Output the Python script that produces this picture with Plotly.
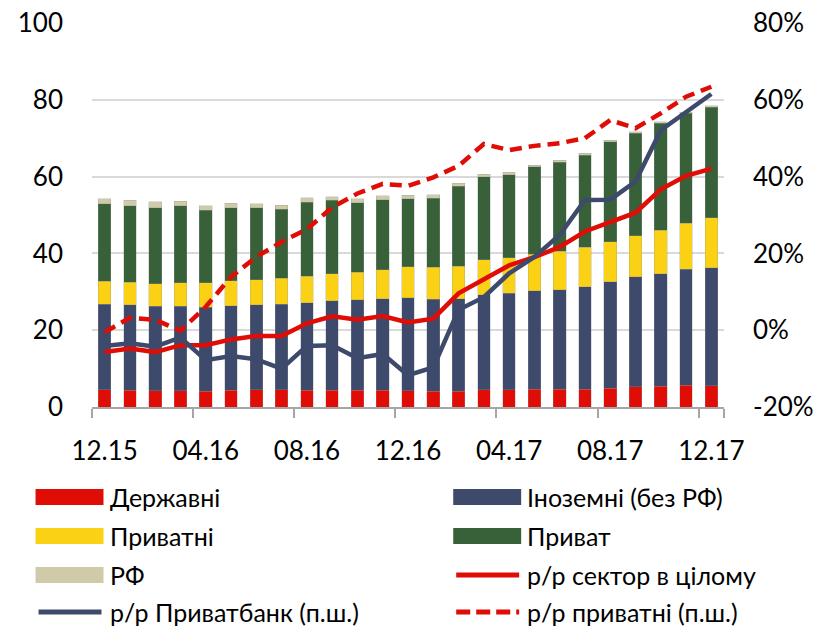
import plotly.graph_objects as go

months = ["12.15", "01.16", "02.16", "03.16", "04.16", "05.16", "06.16", "07.16",
          "08.16", "09.16", "10.16", "11.16", "12.16", "01.17", "02.17", "03.17",
          "04.17", "05.17", "06.17", "07.17", "08.17", "09.17", "10.17", "11.17", "12.17"]
tick_labels = months[::4]
left_ticks = [0, 20, 40, 60, 80, 100]
right_ticks = [-20, 0, 20, 40, 60, 80]
right_tick_text = ["-20%", "0%", "20%", "40%", "60%", "80%"]

state = [4.5, 4.3, 4.2, 4.2, 4.1, 4.3, 4.5, 4.5, 4.4, 4.4, 4.3, 4.3, 4.2, 4.1, 4.1,
         4.5, 4.5, 4.6, 4.6, 4.6, 4.9, 5.3, 5.4, 5.7, 5.6]
foreign = [22.3, 22.3, 22.0, 22.0, 21.9, 22.1, 22.1, 22.3, 22.8, 23.3, 23.6, 23.9, 24.3,
           23.9, 24.1, 24.7, 25.1, 25.7, 26.0, 26.7, 27.7, 28.6, 29.3, 30.2, 30.6]
private = [5.9, 5.9, 5.9, 6.1, 6.4, 6.5, 6.6, 6.7, 6.8, 7.0, 7.2, 7.6, 8.0, 8.4, 8.5,
           9.1, 9.3, 9.5, 9.9, 10.3, 10.5, 10.7, 11.3, 12.0, 13.1]
privat = [20.2, 19.9, 19.8, 20.1, 18.8, 19.0, 18.7, 18.0, 19.3, 19.1, 18.1, 18.2, 17.7,
          18.0, 20.8, 21.7, 21.6, 22.8, 23.3, 24.0, 26.0, 26.7, 27.9, 28.6, 28.7]
russian = [1.3, 1.4, 1.5, 1.2, 1.2, 1.2, 1.0, 1.1, 1.2, 1.0, 1.0, 1.0, 1.0, 0.9, 0.8,
           0.6, 0.6, 0.4, 0.5, 0.5, 0.4, 0.4, 0.4, 0.3, 0.5]

yoy_sector = [-5.7, -4.8, -5.7, -3.9, -3.9, -2.4, -1.5, -1.5, 1.8, 3.6, 2.7, 3.7, 2.0,
              3.0, 9.6, 13.2, 16.9, 19.0, 21.7, 25.7, 28.0, 30.6, 36.7, 40.2, 42.1]
yoy_privatbank = [-4.1, -3.4, -4.3, -1.9, -7.8, -6.7, -7.6, -10.0, -4.1, -3.9, -7.3, -6.2,
                  -11.7, -9.7, 5.3, 8.6, 14.8, 19.1, 24.8, 33.9, 34.0, 38.7, 52.1, 56.9, 61.5]
yoy_private = [-0.5, 3.2, 2.7, -0.1, 6.1, 13.9, 19.1, 23.0, 26.3, 32.0, 35.6, 38.1, 37.6,
               39.8, 42.8, 48.5, 46.9, 48.0, 48.7, 50.0, 54.7, 52.6, 56.5, 60.8, 63.4]

bar_names = ["Державні", "Іноземні (без РФ)", "Приватні", "Приват", "РФ"]
line_names = ["р/р сектор в цілому", "р/р Приватбанк (п.ш.)", "р/р приватні (п.ш.)"]

RED = "#E00D06"
NAVY = "#3D4A6B"
YELLOW = "#FBD115"
GREEN = "#38613A"
BEIGE = "#CFCAA8"
FONT = "Lato"
TICK_SIZE = 26
LEG_SIZE = 25

fig = go.Figure()
bar_series = [state, foreign, private, privat, russian]
bar_colors = [RED, NAVY, YELLOW, GREEN, BEIGE]
for name, vals, col in zip(bar_names, bar_series, bar_colors):
    fig.add_trace(go.Bar(x=months, y=vals, name=name,
                         marker=dict(color=col, line=dict(width=0.6, color="rgba(150,150,150,0.5)")),
                         showlegend=False))

line_series = [yoy_sector, yoy_privatbank, yoy_private]
line_styles = [dict(color=RED, width=4.5), dict(color=NAVY, width=4.5),
               dict(color=RED, width=4.5, dash="12px,7px")]
for name, vals, st in zip(line_names, line_series, line_styles):
    fig.add_trace(go.Scatter(x=months, y=vals, name=name, mode="lines", line=st,
                             yaxis="y2", showlegend=False))

# page offset (default body margin) compensation
OFF = 8
# plot area geometry in screenshot px
L, R, T, B = 91.5, 724, 23, 407
W, H = 822 - OFF, 626 - OFF
fig.update_layout(
    width=W, height=H,
    margin=dict(l=L - OFF, r=W - (R - OFF), t=T - OFF, b=H - (B - OFF), autoexpand=False),
    paper_bgcolor="white", plot_bgcolor="white",
    barmode="stack", bargap=0.5,
    font=dict(family=FONT, color="black"),
    xaxis=dict(type="category", tickmode="array", tickvals=tick_labels, ticktext=tick_labels,
               tickson="boundaries", ticks="outside", ticklen=9, tickcolor="#A6A6A6",
               tickwidth=1.5, showline=True, linecolor="#A6A6A6", linewidth=1.5, showgrid=False,
               tickangle=0, automargin=False, ticklabelstandoff=20,
               tickfont=dict(size=TICK_SIZE, family=FONT), range=[-0.5, 24.5]),
    yaxis=dict(range=[0, 100], tickmode="array", tickvals=left_ticks,
               tickfont=dict(size=TICK_SIZE, family=FONT), ticklabeloverflow="allow",
               gridcolor="#D9D9D9", gridwidth=1.5, zeroline=False, showline=False,
               ticks="", ticklabelstandoff=28, automargin=False),
    yaxis2=dict(range=[-20, 80], tickmode="array", tickvals=right_ticks, ticktext=right_tick_text,
                overlaying="y", side="right", ticklabeloverflow="allow",
                showgrid=False, zeroline=False, showline=False, ticks="", automargin=False,
                tickfont=dict(size=TICK_SIZE, family=FONT), ticklabelstandoff=28),
    showlegend=False,
)

def px_x(px):
    return (px - L) / (R - L)

def px_y(py):
    return (B - py) / (B - T)

rows = [497, 536, 575, 612]
legend_items = [
    (bar_names[0], "bar", RED, 0, 0),
    (bar_names[1], "bar", NAVY, 1, 0),
    (bar_names[2], "bar", YELLOW, 0, 1),
    (bar_names[3], "bar", GREEN, 1, 1),
    (bar_names[4], "bar", BEIGE, 0, 2),
    (line_names[0], "solid", RED, 1, 2),
    (line_names[1], "solid", NAVY, 0, 3),
    (line_names[2], "dash", RED, 1, 3),
]
col_sw = [(35, 103), (453, 521)]
col_tx = [108, 525]
for name, kind, col, c, r in legend_items:
    y = rows[r]
    x0, x1 = col_sw[c]
    if kind == "bar":
        fig.add_shape(type="rect", xref="paper", yref="paper",
                      x0=px_x(x0), x1=px_x(x1), y0=px_y(y + 8), y1=px_y(y - 8),
                      fillcolor=col, line=dict(width=0))
    else:
        fig.add_shape(type="line", xref="paper", yref="paper",
                      x0=px_x(x0 + 3), x1=px_x(x1 - 2), y0=px_y(y), y1=px_y(y),
                      line=dict(color=col, width=5, dash="14px,6px" if kind == "dash" else "solid"))
    fig.add_annotation(text=name, xref="paper", yref="paper", x=px_x(col_tx[c]), y=px_y(y),
                       xanchor="left", yanchor="middle", showarrow=False,
                       font=dict(size=LEG_SIZE, family=FONT, color="black"))

fig.write_html("out.html")
